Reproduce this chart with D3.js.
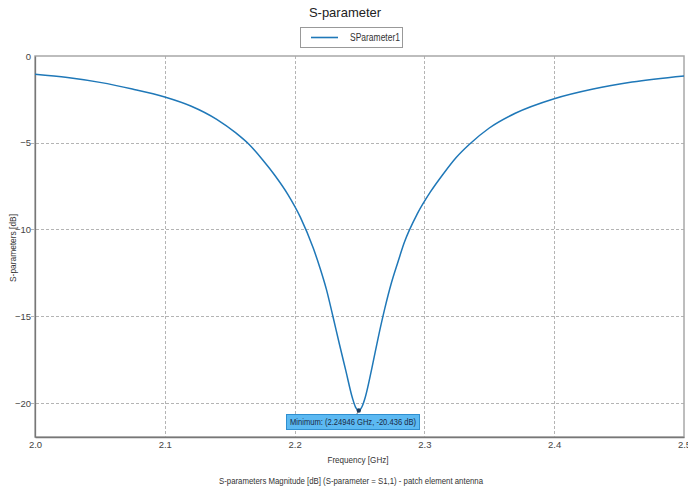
<!DOCTYPE html>
<html>
<head>
<meta charset="utf-8">
<script src="https://cdn.jsdelivr.net/npm/d3@7"></script>
<style>
  body { margin: 0; background: #fff; }
  svg { font-family: "Liberation Sans", Arial, sans-serif; }
</style>
</head>
<body>
<svg width="688" height="491"></svg>
<script>
// values
const freq = [2.0, 2.025, 2.05, 2.075, 2.1, 2.12, 2.14, 2.155, 2.165, 2.175, 2.185, 2.195, 2.2045, 2.2145, 2.2195, 2.2245,
  2.2295, 2.2345, 2.2395, 2.2445, 2.247, 2.2495, 2.252, 2.2545, 2.2595, 2.2645, 2.2695, 2.2745, 2.2795, 2.2845, 2.2945,
  2.3045, 2.3145, 2.3245, 2.3345, 2.35, 2.37, 2.4, 2.43, 2.46, 2.5];
const sdb = [-1.05, -1.24, -1.52, -1.9, -2.36, -2.88, -3.65, -4.45, -5.1, -5.95, -6.9, -8.0, -9.3, -11.1, -12.2, -13.45,
  -15.0, -16.6, -18.15, -19.7, -20.25, -20.436, -20.2, -19.65, -18.0, -16.2, -14.55, -13.1, -11.9, -10.75, -9.1,
  -7.85, -6.8, -5.85, -5.1, -4.15, -3.3, -2.46, -1.9, -1.5, -1.15];
const xTicks = [2.0, 2.1, 2.2, 2.3, 2.4, 2.5];
const yTicks = [0, -5, -10, -15, -20];
const minPoint = { f: 2.24946, db: -20.436 };

const svg = d3.select('svg');
const pL = 35, pR = 684, pT = 56, pB = 437;

const x = d3.scaleLinear().domain([2.0, 2.5]).range([pL, pR]);
const y = d3.scaleLinear().domain([-21.96, 0]).range([pB, pT]);

// the reference uses a condensed face; squeeze the regular one to the same widths
function label(sel, txt, w) {
  return sel.attr('textLength', w).attr('lengthAdjust', 'spacingAndGlyphs').text(txt);
}

// title
svg.append('text')
  .attr('x', 345).attr('y', 17)
  .attr('text-anchor', 'middle')
  .attr('font-size', 13)
  .attr('fill', '#222')
  .text('S-parameter');

// legend
const lg = svg.append('g');
lg.append('rect').attr('x', 300.5).attr('y', 27.5).attr('width', 102).attr('height', 20)
  .attr('fill', '#fff').attr('stroke', '#999');
lg.append('line').attr('x1', 311).attr('x2', 338).attr('y1', 37.5).attr('y2', 37.5)
  .attr('stroke', '#1f78b8').attr('stroke-width', 1.6);
label(lg.append('text').attr('x', 350).attr('y', 41).attr('font-size', 10).attr('fill', '#333'), 'SParameter1', 50);

// grid
const grid = svg.append('g').attr('stroke', '#b4b4b4').attr('stroke-dasharray', '3,2').attr('stroke-width', 1);
grid.selectAll('.gx').data(xTicks.slice(1, -1)).enter().append('line')
  .attr('x1', d => Math.round(x(d)) + 0.5).attr('x2', d => Math.round(x(d)) + 0.5)
  .attr('y1', pT).attr('y2', pB);
grid.selectAll('.gy').data(yTicks.slice(1)).enter().append('line')
  .attr('y1', d => Math.round(y(d)) + 0.5).attr('y2', d => Math.round(y(d)) + 0.5)
  .attr('x1', pL - 4).attr('x2', pR);

// frame
svg.append('rect').attr('x', pL).attr('y', pT).attr('width', pR - pL).attr('height', pB - pT)
  .attr('fill', 'none').attr('stroke', '#a8a8a8').attr('stroke-width', 1.5);

// axes
const yAxis = svg.append('g').attr('transform', `translate(${pL},0)`)
  .call(d3.axisLeft(y).tickValues(yTicks).tickSize(0).tickPadding(4).tickFormat(d3.format('d')));
const xAxis = svg.append('g').attr('transform', `translate(0,${pB})`)
  .call(d3.axisBottom(x).tickValues(xTicks).tickSize(0).tickPadding(4).tickFormat(d3.format('.1f')));
[xAxis, yAxis].forEach(a => {
  a.select('.domain').attr('stroke', '#777').attr('stroke-width', 1.3);
  a.selectAll('text').attr('font-size', 9.5).attr('fill', '#444')
    .attr('font-family', '"Liberation Sans", Arial, sans-serif');
});

// axis titles
label(svg.append('text').attr('x', 358).attr('y', 463).attr('text-anchor', 'middle')
  .attr('font-size', 9.5).attr('fill', '#333'), 'Frequency [GHz]', 61);
label(svg.append('text').attr('transform', 'translate(16,248) rotate(-90)').attr('text-anchor', 'middle')
  .attr('font-size', 9.5).attr('fill', '#333'), 'S-parameters [dB]', 68);
label(svg.append('text').attr('x', 351).attr('y', 484).attr('text-anchor', 'middle')
  .attr('font-size', 9.5).attr('fill', '#333'),
  'S-parameters Magnitude [dB] (S-parameter = S1,1) - patch element antenna', 264);

// curve
const pts = freq.map((f, i) => [f, sdb[i]]);
svg.append('path').datum(pts)
  .attr('fill', 'none').attr('stroke', '#1f78b8').attr('stroke-width', 1.5)
  .attr('d', d3.line().x(d => x(d[0])).y(d => y(d[1])).curve(d3.curveMonotoneX));

// minimum annotation
const mx = x(minPoint.f), my = y(minPoint.db);
const boxX = 286, boxY = 414, boxW = 133, boxH = 15;
svg.append('line').attr('x1', mx).attr('y1', my).attr('x2', mx - 2).attr('y2', boxY)
  .attr('stroke', '#555').attr('stroke-width', 0.8);
svg.append('circle').attr('cx', mx).attr('cy', my).attr('r', 2.2).attr('fill', '#1b3a5c');
svg.append('rect').attr('x', boxX + 0.5).attr('y', boxY + 0.5).attr('width', boxW).attr('height', boxH)
  .attr('fill', '#5cb9f2').attr('stroke', '#2f8fd0');
label(svg.append('text').attr('x', boxX + 4).attr('y', boxY + 11).attr('font-size', 9.5).attr('fill', '#1a2a44'),
  `Minimum: (${minPoint.f} GHz, ${minPoint.db} dB)`, 126);
</script>
</body>
</html>
